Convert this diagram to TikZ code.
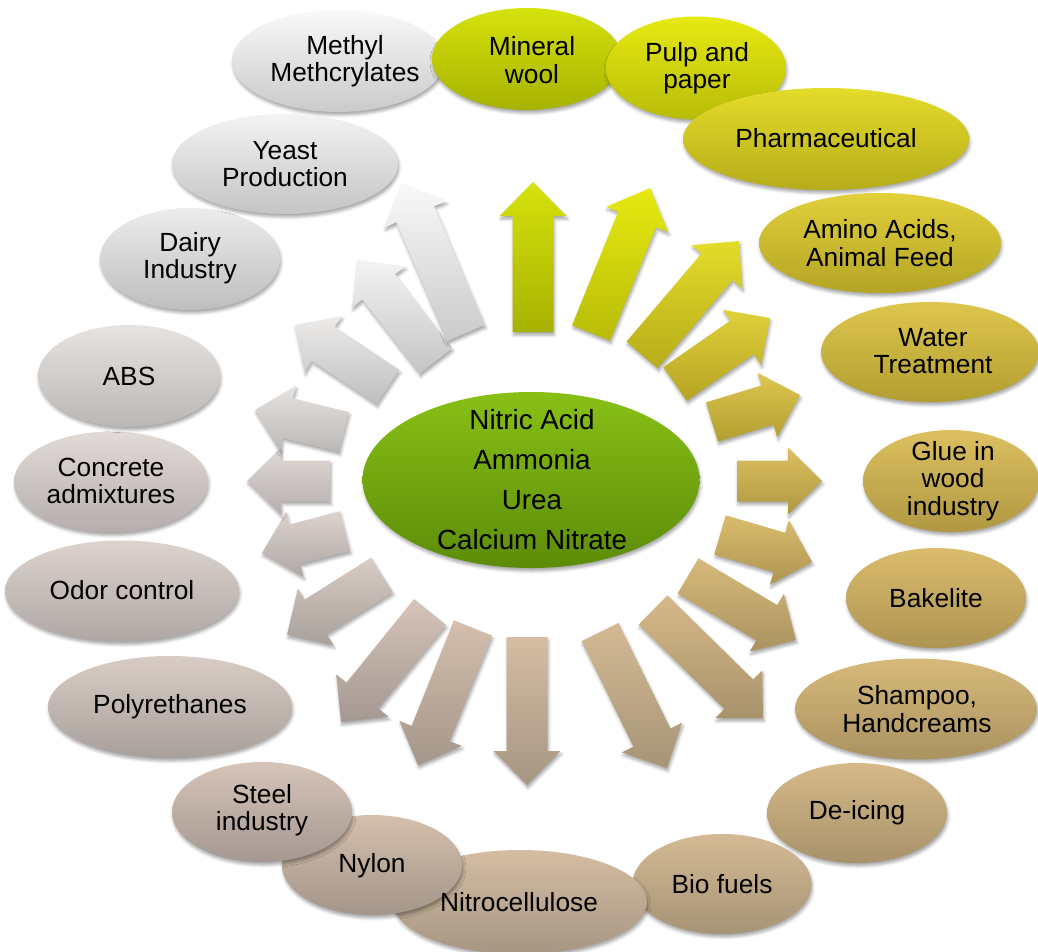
\documentclass[tikz,border=0pt]{standalone}
\usepackage{fontspec}
\setmainfont{Liberation Sans}
\usetikzlibrary{shapes.geometric,calc,shadows.blur}

% palette: top / bottom shade for each of the twenty uses
\definecolor{t1}{RGB}{214,226,12}   \definecolor{b1}{RGB}{166,178,0}
\definecolor{t2}{RGB}{230,234,16}   \definecolor{b2}{RGB}{184,188,8}
\definecolor{t3}{RGB}{228,220,42}   \definecolor{b3}{RGB}{182,172,26}
\definecolor{t4}{RGB}{225,208,58}   \definecolor{b4}{RGB}{180,164,36}
\definecolor{t5}{RGB}{222,198,78}   \definecolor{b5}{RGB}{178,158,48}
\definecolor{t6}{RGB}{220,192,96}   \definecolor{b6}{RGB}{176,152,66}
\definecolor{t7}{RGB}{218,188,108}  \definecolor{b7}{RGB}{174,148,82}
\definecolor{t8}{RGB}{215,186,122}  \definecolor{b8}{RGB}{170,146,96}
\definecolor{t9}{RGB}{213,185,136}  \definecolor{b9}{RGB}{168,146,108}
\definecolor{t10}{RGB}{212,186,148} \definecolor{b10}{RGB}{166,148,118}
\definecolor{t11}{RGB}{212,189,162} \definecolor{b11}{RGB}{166,150,130}
\definecolor{t12}{RGB}{212,191,172} \definecolor{b12}{RGB}{164,150,138}
\definecolor{t13}{RGB}{214,196,184} \definecolor{b13}{RGB}{164,152,145}
\definecolor{t14}{RGB}{217,204,196} \definecolor{b14}{RGB}{168,160,155}
\definecolor{t15}{RGB}{221,211,206} \definecolor{b15}{RGB}{174,167,164}
\definecolor{t16}{RGB}{226,218,215} \definecolor{b16}{RGB}{180,174,172}
\definecolor{t17}{RGB}{231,227,225} \definecolor{b17}{RGB}{186,183,181}
\definecolor{t18}{RGB}{237,236,235} \definecolor{b18}{RGB}{191,190,190}
\definecolor{t19}{RGB}{243,243,243} \definecolor{b19}{RGB}{196,196,196}
\definecolor{t20}{RGB}{249,249,249} \definecolor{b20}{RGB}{202,202,202}
\definecolor{hubtop}{RGB}{136,192,22}
\definecolor{hubbot}{RGB}{92,140,8}

% block arrow from tail centre #2 to tip #3, shaded #4 -> #5
\newcommand\blockarrow[5]{%
  \coordinate (#1t) at #2;
  \coordinate (#1p) at #3;
  \coordinate (#1h) at ($(#1p)!34pt!(#1t)$);
  \path[soft, top color=#4, bottom color=#5]
    ($(#1t)!20.5pt!90:(#1p)$) -- ($(#1h)!20.5pt!-90:(#1t)$)
    -- ($(#1h)!33.5pt!-90:(#1t)$) -- (#1p)
    -- ($(#1h)!33.5pt!90:(#1t)$) -- ($(#1h)!20.5pt!90:(#1t)$)
    -- ($(#1t)!20.5pt!-90:(#1p)$) -- cycle;}

% shaded ellipse: name, centre, width, height, colour index
\newcommand\bubble[5]{%
  \node[ell, minimum width=#3pt, minimum height=#4pt,
        top color=t#5, bottom color=b#5] (#1) at #2 {};}

\begin{document}
\begin{tikzpicture}[x=1pt,y=-1pt,
  soft/.style={blur shadow={shadow xshift=1pt, shadow yshift=-3pt,
               shadow blur radius=3pt, shadow opacity=35}},
  ell/.style={ellipse, inner sep=0pt, outer sep=0pt, draw=none, soft},
  lbl/.style={align=center, inner sep=0pt,
              font=\fontsize{26.3}{27.3}\selectfont},
  hublbl/.style={align=center, inner sep=0pt,
              font=\fontsize{27.8}{40}\selectfont}]
\useasboundingbox (0,0) rectangle (1038,952);

% radiating arrows, clockwise from the top
\blockarrow{a1}{(533,332)}{(533,182)}{t1}{b1}
\blockarrow{a2}{(591,333)}{(650,188)}{t2}{b2}
\blockarrow{a3}{(642,355)}{(739,241)}{t3}{b3}
\blockarrow{a4}{(675,384)}{(770,318)}{t4}{b4}
\blockarrow{a5}{(712,422)}{(800,395)}{t5}{b5}
\blockarrow{a6}{(737,481)}{(822,481)}{t6}{b6}
\blockarrow{a7}{(720,535)}{(812,562)}{t7}{b7}
\blockarrow{a8}{(688,576)}{(796,640)}{t8}{b8}
\blockarrow{a9}{(653,610)}{(763,718)}{t9}{b9}
\blockarrow{a10}{(600,632)}{(667,768)}{t10}{b10}
\blockarrow{a11}{(527,637)}{(527,785)}{t11}{b11}
\blockarrow{a12}{(473,628)}{(418,765)}{t12}{b12}
\blockarrow{a13}{(430,612)}{(341,722)}{t13}{b13}
\blockarrow{a14}{(382,575)}{(287,635)}{t14}{b14}
\blockarrow{a15}{(345,531)}{(262,553)}{t15}{b15}
\blockarrow{a16}{(330,481)}{(247,481)}{t16}{b16}
\blockarrow{a17}{(344,432)}{(255,410)}{t17}{b17}
\blockarrow{a18}{(388,387)}{(295,325)}{t18}{b18}
\blockarrow{a19}{(436,361)}{(358,260)}{t19}{b19}
\blockarrow{a20}{(466,333)}{(402,183)}{t20}{b20}

% centre
\node[ell, minimum width=337pt, minimum height=176pt,
      top color=hubtop, bottom color=hubbot] (hub) at (531,480) {};
\node[hublbl] at (532,480) {Nitric Acid\\Ammonia\\Urea\\Calcium Nitrate};

% outer ring of uses
\bubble{methyl}{(338,61)}{212}{102}{20}
\bubble{mineral}{(527,59)}{190}{102}{1}
\bubble{pulp}{(696,68)}{180}{103}{2}
\bubble{pharma}{(826,139)}{286}{102}{3}
\bubble{amino}{(880,243)}{242}{100}{4}
\bubble{water}{(930,352)}{218}{100}{5}
\bubble{glue}{(951,481)}{176}{102}{6}
\bubble{bakelite}{(936,598)}{180}{100}{7}
\bubble{shampoo}{(916,709)}{242}{101}{8}
\bubble{deicing}{(857,813)}{180}{100}{9}
\bubble{biofuels}{(722,884)}{179}{100}{10}
\bubble{nitro}{(520,902)}{254}{104}{11}
\bubble{nylon}{(372,865)}{180}{100}{12}
\bubble{steel}{(262,812)}{180}{100}{13}
\bubble{poly}{(170,707)}{244}{102}{14}
\bubble{odor}{(122,591)}{234}{101}{15}
\bubble{concrete}{(111,482)}{194}{101}{16}
\bubble{abs}{(129,376)}{182}{102}{17}
\bubble{dairy}{(190,259)}{180}{102}{18}
\bubble{yeast}{(285,164)}{226}{100}{19}

\node[lbl] at (345,61)  {Methyl\\Methcrylates};
\node[lbl] at (532,60)  {Mineral\\wool};
\node[lbl] at (697,68)  {Pulp and\\paper};
\node[lbl] at (826,138) {Pharmaceutical};
\node[lbl] at (880,243) {Amino Acids,\\Animal Feed};
\node[lbl] at (933,351) {Water\\Treatment};
\node[lbl] at (953,481) {Glue in\\wood\\industry};
\node[lbl] at (936,598) {Bakelite};
\node[lbl] at (917,709) {Shampoo,\\Handcreams};
\node[lbl] at (857,813) {De-icing};
\node[lbl] at (722,884) {Bio fuels};
\node[lbl] at (519,902) {Nitrocellulose};
\node[lbl] at (372,866) {Nylon};
\node[lbl] at (262,810) {Steel\\industry};
\node[lbl] at (170,707) {Polyrethanes};
\node[lbl] at (122,590) {Odor control};
\node[lbl] at (111,481) {Concrete\\admixtures};
\node[lbl] at (129,376) {ABS};
\node[lbl] at (190,258) {Dairy\\Industry};
\node[lbl] at (285,164) {Yeast\\Production};
\end{tikzpicture}
\end{document}
